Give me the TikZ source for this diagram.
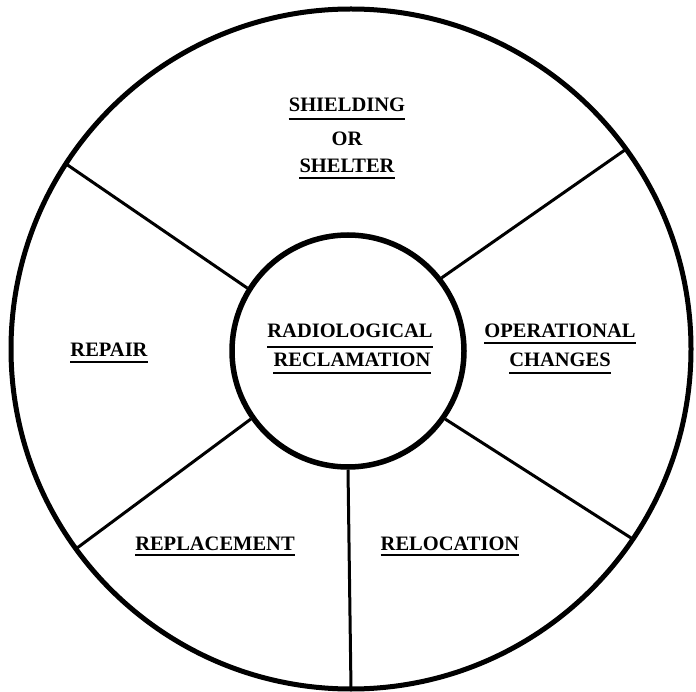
\documentclass[tikz,border=0pt]{standalone}
\usepackage{fontspec}
\setmainfont{Liberation Serif}
\begin{document}
\begin{tikzpicture}[x=1pt,y=-1pt,
  ring/.style={circle,draw,line width=5pt,inner sep=0pt},
  spoke/.style={line width=3pt},
  lbl/.style={inner sep=0pt,font=\fontsize{20.5}{24}\selectfont\bfseries},
  uline/.style={line width=1.8pt}]
\useasboundingbox (0,0) rectangle (696,692);
\node[ring,minimum size=680pt,outer sep=0pt] (outer) at (351,349) {};
\node[ring,minimum size=232pt,line width=5.5pt] (inner) at (348,351) {};
% spokes
\draw[spoke] (inner.148) -- (outer.147);
\draw[spoke] (inner.38.4) -- (outer.36.5);
\draw[spoke] (inner.-35.3) -- (outer.-34.6);
\draw[spoke] (inner.-145) -- (outer.-144.4);
\draw[spoke] (inner.-90) -- (outer.-90);
% labels
\node[lbl,anchor=base] (sh) at (347,112) {SHIELDING};
\node[lbl,anchor=base] (or) at (347,146) {OR};
\node[lbl,anchor=base] (st) at (347,173) {SHELTER};
\node[lbl,anchor=base] (rad) at (350,338) {RADIOLOGICAL};
\node[lbl,anchor=base] (rec) at (352,367) {RECLAMATION};
\node[lbl,anchor=base] (op) at (560,338) {OPERATIONAL};
\node[lbl,anchor=base] (ch) at (560,367) {CHANGES};
\node[lbl,anchor=base] (rep) at (109,357) {REPAIR};
\node[lbl,anchor=base] (rpl) at (215,550) {REPLACEMENT};
\node[lbl,anchor=base] (rel) at (450,550) {RELOCATION};
% underlines
\foreach \n/\d in {sh/7,st/5,rad/9,rec/6,op/5,ch/6,rep/5,rpl/5,rel/5}
  \draw[uline] ([yshift=-\d pt]\n.base west) -- ([yshift=-\d pt]\n.base east);
\end{tikzpicture}
\end{document}
